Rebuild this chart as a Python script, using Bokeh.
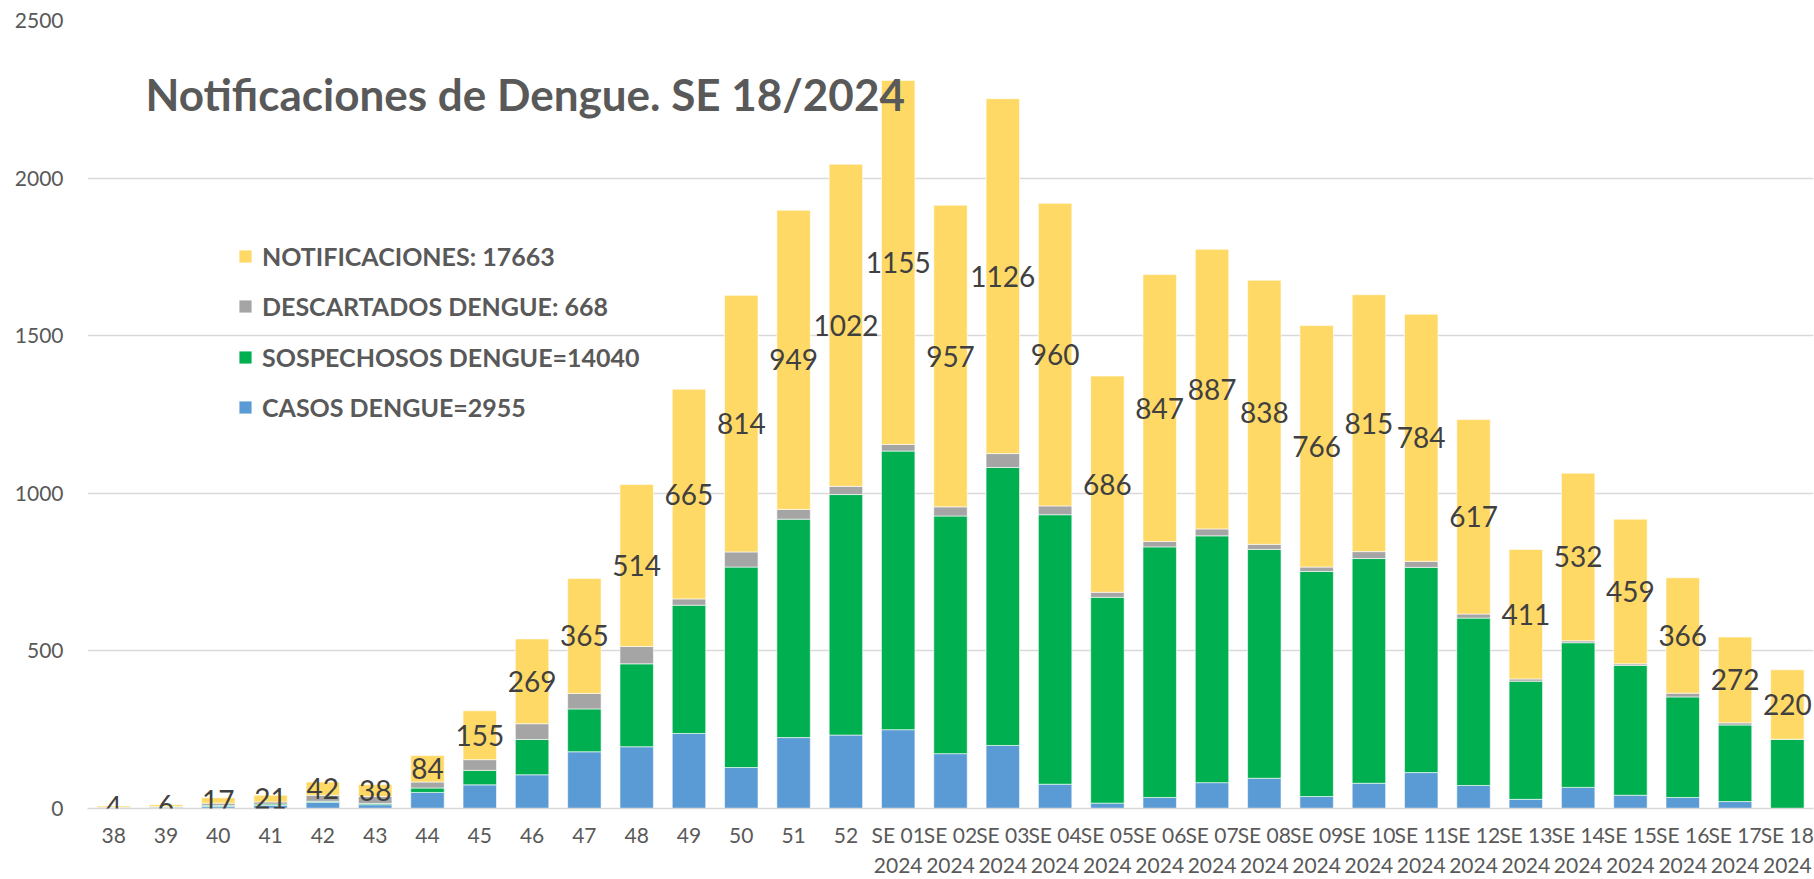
from bokeh.plotting import figure
from bokeh.models import ColumnDataSource, Legend, LegendItem, Label, FixedTicker
from bokeh.embed import file_html
from bokeh.resources import INLINE

weeks = ["38", "39", "40", "41", "42", "43", "44", "45", "46", "47", "48", "49", "50", "51", "52",
         "SE 01\n2024", "SE 02\n2024", "SE 03\n2024", "SE 04\n2024", "SE 05\n2024", "SE 06\n2024",
         "SE 07\n2024", "SE 08\n2024", "SE 09\n2024", "SE 10\n2024", "SE 11\n2024", "SE 12\n2024",
         "SE 13\n2024", "SE 14\n2024", "SE 15\n2024", "SE 16\n2024", "SE 17\n2024", "SE 18\n2024"]

casos = [1, 1, 6, 10, 20, 12, 51, 75, 107, 180, 196, 238, 130, 225, 233,
         250, 174, 200, 77, 17, 35, 82, 96, 38, 80, 114, 73, 29, 67, 42, 35, 22, 0]
sospechosos = [1, 3, 4, 4, 3, 4, 14, 46, 112, 136, 263, 407, 636, 693, 763,
               884, 754, 882, 855, 653, 795, 783, 726, 714, 713, 651, 531, 375, 459, 412, 319, 243, 220]
descartados = [2, 2, 7, 7, 19, 22, 19, 34, 50, 49, 55, 20, 48, 31, 26,
               21, 29, 44, 28, 16, 17, 22, 16, 14, 22, 19, 13, 7, 6, 5, 12, 7, 0]
notificaciones = [4, 6, 17, 21, 42, 38, 84, 155, 269, 365, 514, 665, 814, 949, 1022,
                  1155, 957, 1126, 960, 686, 847, 887, 838, 766, 815, 784, 617, 411, 532, 459, 366, 272, 220]

legend_labels = ["NOTIFICACIONES: 17663", "DESCARTADOS DENGUE: 668",
                 "SOSPECHOSOS DENGUE=14040", "CASOS DENGUE=2955"]
title_text = "Notificaciones de Dengue. SE 18/2024"

C_CASOS = "#5B9BD5"
C_SOSP = "#00B050"
C_DESC = "#A5A5A5"
C_NOTIF = "#FFD966"
FONT = "Lato"
TICK_COLOR = "#595959"

src = ColumnDataSource(dict(
    week=weeks, casos=casos, sosp=sospechosos, desc=descartados, notif=notificaciones,
))

p = figure(x_range=weeks, y_range=(0, 2500), width=1814, height=879,
           output_backend="svg", toolbar_location=None,
           min_border_left=87, min_border_right=1, min_border_top=20, min_border_bottom=71)
p.outline_line_color = None
p.background_fill_color = "white"
p.border_fill_color = "white"

rs = p.vbar_stack(["casos", "sosp", "desc", "notif"], x="week", width=0.64,
                  color=[C_CASOS, C_SOSP, C_DESC, C_NOTIF], line_color="white", line_width=0.6,
                  source=src)

# data labels: value of NOTIFICACIONES, centred in its (top) segment
for i, (c, s, d, n) in enumerate(zip(casos, sospechosos, descartados, notificaciones)):
    p.add_layout(Label(x=i + 0.5, y=c + s + d + n / 2, text=str(n),
                       text_font=FONT, text_font_size="28px", text_color="#404040",
                       text_align="center", text_baseline="middle", level="overlay"))

# y axis
p.yaxis.ticker = FixedTicker(ticks=[0, 500, 1000, 1500, 2000, 2500])
p.yaxis.axis_line_color = None
p.yaxis.major_tick_line_color = None
p.yaxis.minor_tick_line_color = None
p.yaxis.major_tick_out = 0
p.yaxis.major_tick_in = 0
p.yaxis.major_label_standoff = 24
p.yaxis.major_label_text_font = FONT
p.yaxis.major_label_text_font_size = "21px"
p.yaxis.major_label_text_color = TICK_COLOR

# x axis
p.xaxis.axis_line_color = "#D9D9D9"
p.xaxis.axis_line_width = 1.5
p.xaxis.major_tick_line_color = None
p.xaxis.minor_tick_line_color = None
p.xaxis.major_tick_out = 0
p.xaxis.major_tick_in = 0
p.xaxis.major_label_standoff = 13
p.xaxis.major_label_text_font = FONT
p.xaxis.major_label_text_font_size = "21px"
p.xaxis.major_label_text_color = TICK_COLOR
p.xaxis.major_label_text_line_height = 1.2

p.xgrid.grid_line_color = None
p.ygrid.grid_line_color = "#D9D9D9"
p.ygrid.grid_line_width = 1.5
p.x_range.range_padding = 0

# title inside plot
p.add_layout(Label(x=58, y=715, x_units="screen", y_units="screen", text=title_text,
                   text_font=FONT, text_font_style="bold", text_font_size="44px",
                   text_color="#595959", text_baseline="alphabetic"))

# legend, one row per entry (top to bottom: notificaciones, descartados, sospechosos, casos)
legend_rows = [(legend_labels[0], rs[3], 536), (legend_labels[1], rs[2], 486),
               (legend_labels[2], rs[1], 435), (legend_labels[3], rs[0], 385)]
for text, rend, ly in legend_rows:
    lg = Legend(items=[LegendItem(label=text, renderers=[rend])], location=(150, ly))
    lg.border_line_color = None
    lg.background_fill_alpha = 0
    lg.padding = 0
    lg.margin = 0
    lg.glyph_width = 16
    lg.glyph_height = 16
    lg.label_height = 32
    lg.spacing = 0
    lg.label_standoff = 9
    lg.label_text_font = FONT
    lg.label_text_font_style = "bold"
    lg.label_text_font_size = "25px"
    lg.label_text_color = "#595959"
    lg.label_text_baseline = "middle"
    p.add_layout(lg, "center")

open("out.html", "w").write(file_html(p, INLINE))
